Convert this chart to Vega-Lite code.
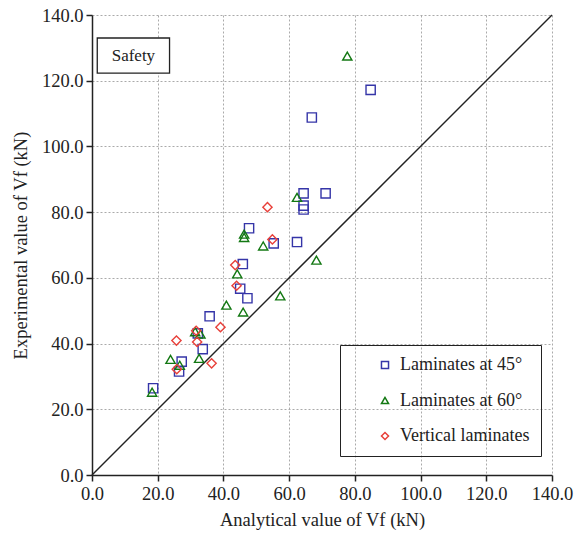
{
  "$schema": "https://vega.github.io/schema/vega-lite/v6.json",
  "width": 460,
  "height": 460,
  "autosize": {"type": "none"},
  "padding": {"left": 92, "top": 15, "right": 28, "bottom": 61},
  "background": "white",
  "config": {
    "font": "Liberation Serif",
    "view": {"stroke": null},
    "axis": {
      "labelFont": "Liberation Serif",
      "titleFont": "Liberation Serif",
      "labelFontSize": 18.5,
      "titleFontSize": 18.5,
      "titleFontWeight": "normal",
      "labelColor": "#222",
      "titleColor": "#222",
      "domainColor": "#222",
      "domainWidth": 1.5,
      "tickColor": "#222",
      "tickWidth": 1.5,
      "tickSize": 6,
      "labelFlush": false,
      "gridColor": "#aaaaaa",
      "gridDash": [2, 2],
      "gridWidth": 1
    },
    "legend": {
      "labelFont": "Liberation Serif",
      "labelFontSize": 18,
      "labelColor": "#222"
    }
  },
  "datasets": {
    "pts": [
      {"a": 84.8, "e": 117.2, "g": "Laminates at 45°"},
      {"a": 66.9, "e": 108.8, "g": "Laminates at 45°"},
      {"a": 64.4, "e": 85.7, "g": "Laminates at 45°"},
      {"a": 71.1, "e": 85.7, "g": "Laminates at 45°"},
      {"a": 64.4, "e": 82.0, "g": "Laminates at 45°"},
      {"a": 64.4, "e": 80.8, "g": "Laminates at 45°"},
      {"a": 47.8, "e": 75.1, "g": "Laminates at 45°"},
      {"a": 55.3, "e": 70.5, "g": "Laminates at 45°"},
      {"a": 62.4, "e": 70.9, "g": "Laminates at 45°"},
      {"a": 45.9, "e": 64.2, "g": "Laminates at 45°"},
      {"a": 45.1, "e": 56.7, "g": "Laminates at 45°"},
      {"a": 47.3, "e": 53.8, "g": "Laminates at 45°"},
      {"a": 35.8, "e": 48.3, "g": "Laminates at 45°"},
      {"a": 32.2, "e": 43.1, "g": "Laminates at 45°"},
      {"a": 33.7, "e": 38.3, "g": "Laminates at 45°"},
      {"a": 27.3, "e": 34.5, "g": "Laminates at 45°"},
      {"a": 26.5, "e": 31.5, "g": "Laminates at 45°"},
      {"a": 18.6, "e": 26.4, "g": "Laminates at 45°"},
      {"a": 77.7, "e": 127.5, "g": "Laminates at 60°"},
      {"a": 62.4, "e": 84.5, "g": "Laminates at 60°"},
      {"a": 46.3, "e": 73.3, "g": "Laminates at 60°"},
      {"a": 46.3, "e": 72.3, "g": "Laminates at 60°"},
      {"a": 52.1, "e": 69.7, "g": "Laminates at 60°"},
      {"a": 68.3, "e": 65.4, "g": "Laminates at 60°"},
      {"a": 44.2, "e": 61.2, "g": "Laminates at 60°"},
      {"a": 57.3, "e": 54.5, "g": "Laminates at 60°"},
      {"a": 40.9, "e": 51.7, "g": "Laminates at 60°"},
      {"a": 46.0, "e": 49.6, "g": "Laminates at 60°"},
      {"a": 31.4, "e": 43.6, "g": "Laminates at 60°"},
      {"a": 33.0, "e": 42.9, "g": "Laminates at 60°"},
      {"a": 23.9, "e": 35.2, "g": "Laminates at 60°"},
      {"a": 26.7, "e": 33.4, "g": "Laminates at 60°"},
      {"a": 32.6, "e": 35.5, "g": "Laminates at 60°"},
      {"a": 18.3, "e": 25.2, "g": "Laminates at 60°"},
      {"a": 53.4, "e": 81.5, "g": "Vertical laminates"},
      {"a": 54.9, "e": 71.7, "g": "Vertical laminates"},
      {"a": 43.6, "e": 63.9, "g": "Vertical laminates"},
      {"a": 44.0, "e": 57.6, "g": "Vertical laminates"},
      {"a": 39.1, "e": 45.0, "g": "Vertical laminates"},
      {"a": 31.7, "e": 43.9, "g": "Vertical laminates"},
      {"a": 25.7, "e": 40.9, "g": "Vertical laminates"},
      {"a": 32.0, "e": 40.5, "g": "Vertical laminates"},
      {"a": 36.4, "e": 34.0, "g": "Vertical laminates"},
      {"a": 25.8, "e": 32.2, "g": "Vertical laminates"}
    ],
    "diag": [{"a": 0, "e": 0}, {"a": 140, "e": 140}],
    "box": [{"x1": 1.6, "x2": 23.6, "y1": 122.3, "y2": 133.0, "xm": 12.6, "ym": 127.65, "t": "Safety"}]
  },
  "layer": [
    {
      "data": {"name": "diag"},
      "mark": {"type": "line", "color": "#222", "strokeWidth": 1.5},
      "encoding": {
        "x": {"field": "a", "type": "quantitative", "scale": {"domain": [0, 140]},
              "axis": {"values": [0, 20, 40, 60, 80, 100, 120, 140], "format": ".1f", "title": "Analytical value of Vf (kN)", "titlePadding": 8, "labelPadding": 3}},
        "y": {"field": "e", "type": "quantitative", "scale": {"domain": [0, 140]},
              "axis": {"values": [0, 20, 40, 60, 80, 100, 120, 140], "format": ".1f", "title": "Experimental value of Vf (kN)", "titlePadding": 11, "labelPadding": 3}}
      }
    },
    {
      "data": {"name": "box"},
      "mark": {"type": "rect", "fill": "white", "stroke": "#222", "strokeWidth": 1.3},
      "encoding": {
        "x": {"field": "x1", "type": "quantitative"},
        "x2": {"field": "x2"},
        "y": {"field": "y1", "type": "quantitative"},
        "y2": {"field": "y2"}
      }
    },
    {
      "data": {"name": "box"},
      "mark": {"type": "text", "font": "Liberation Serif", "fontSize": 17, "color": "#222", "baseline": "middle", "align": "center"},
      "encoding": {
        "x": {"field": "xm", "type": "quantitative"},
        "y": {"field": "ym", "type": "quantitative"},
        "text": {"field": "t"}
      }
    },
    {
      "data": {"name": "pts"},
      "mark": {"type": "point", "filled": false, "strokeWidth": 1.4, "size": 85, "opacity": 1},
      "encoding": {
        "x": {"field": "a", "type": "quantitative"},
        "y": {"field": "e", "type": "quantitative"},
        "color": {"field": "g", "type": "nominal",
                  "scale": {"domain": ["Laminates at 45°", "Laminates at 60°", "Vertical laminates"], "range": ["#3535a8", "#137813", "#e8403a"]},
                  "legend": {"title": null, "orient": "none", "legendX": 248, "legendY": 330, "strokeColor": "#222", "padding": 11, "symbolOffset": 25, "rowPadding": 17.5, "symbolSize": 50, "symbolStrokeWidth": 1.5, "symbolOpacity": 1, "labelOffset": 6}},
        "shape": {"field": "g", "type": "nominal",
                  "scale": {"domain": ["Laminates at 45°", "Laminates at 60°", "Vertical laminates"], "range": ["square", "triangle-up", "diamond"]},
                  "legend": null}
      }
    }
  ]
}
